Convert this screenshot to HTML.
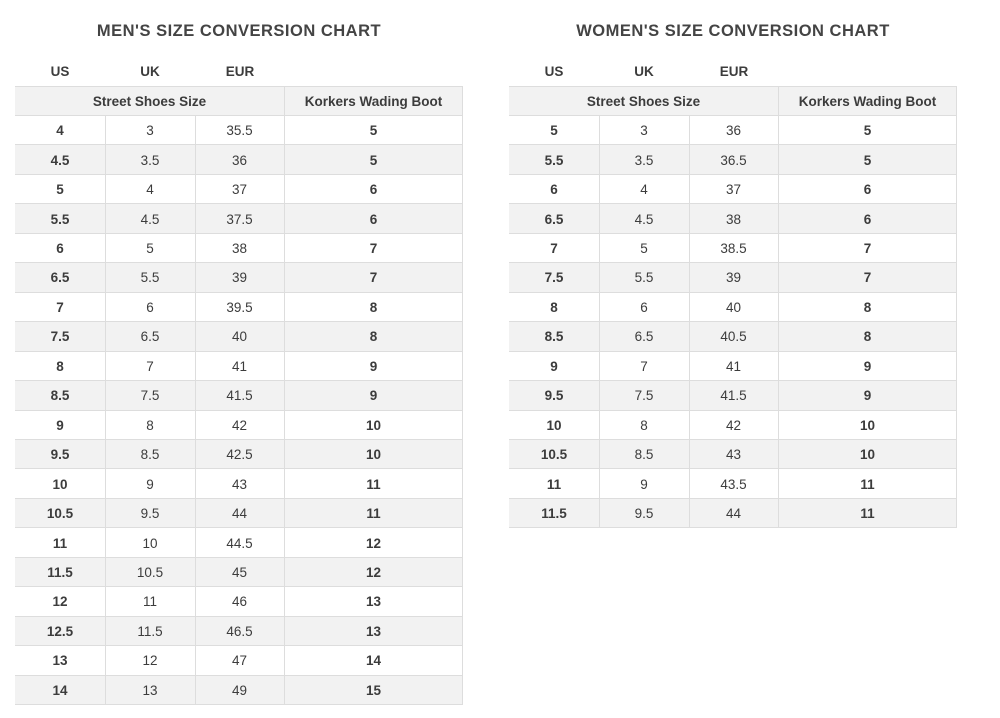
<!DOCTYPE html>
<html><head><meta charset="utf-8"><style>
body{margin:0;width:1000px;height:718px;background:#fff;position:relative;overflow:hidden;font-family:"Liberation Sans",sans-serif;color:#3c3c3c}
.a{position:absolute;text-align:center;box-sizing:border-box}
.t{font-weight:bold;font-size:16.5px;letter-spacing:0.5px;color:#444}
.h{font-weight:bold;font-size:13.5px}
.c{font-size:13.5px;display:flex;align-items:center;justify-content:center}
.b{font-weight:bold}
</style></head><body>
<div id="root"></div>
<script>
const men=[["4","3","35.5","5"],["4.5","3.5","36","5"],["5","4","37","6"],["5.5","4.5","37.5","6"],["6","5","38","7"],["6.5","5.5","39","7"],["7","6","39.5","8"],["7.5","6.5","40","8"],["8","7","41","9"],["8.5","7.5","41.5","9"],["9","8","42","10"],["9.5","8.5","42.5","10"],["10","9","43","11"],["10.5","9.5","44","11"],["11","10","44.5","12"],["11.5","10.5","45","12"],["12","11","46","13"],["12.5","11.5","46.5","13"],["13","12","47","14"],["14","13","49","15"]];
const women=[["5","3","36","5"],["5.5","3.5","36.5","5"],["6","4","37","6"],["6.5","4.5","38","6"],["7","5","38.5","7"],["7.5","5.5","39","7"],["8","6","40","8"],["8.5","6.5","40.5","8"],["9","7","41","9"],["9.5","7.5","41.5","9"],["10","8","42","10"],["10.5","8.5","43","10"],["11","9","43.5","11"],["11.5","9.5","44","11"]];
let h="";
function add(s){h+=s;}
function table(x0,title,data){
 const cx=[0,90,180,269,448].map(v=>v+x0);
 add(`<div class="a t" style="left:${x0-20}px;width:${448+40}px;top:22px">${title}</div>`);
 ["US","UK","EUR"].forEach((l,i)=>add(`<div class="a h" style="left:${cx[i]}px;width:90px;top:64px">${l}</div>`));
 const top=86,hh=30,rh=29.45;
 add(`<div class="a" style="left:${x0}px;top:${top}px;width:448px;height:${hh}px;background:#f2f2f2;border-top:1px solid #ddd;border-bottom:1px solid #ddd"></div>`);
 add(`<div class="a h c" style="left:${x0}px;top:${top}px;width:269px;height:${hh}px">Street Shoes Size</div>`);
 add(`<div class="a h c" style="left:${cx[3]}px;top:${top}px;width:179px;height:${hh}px">Korkers Wading Boot</div>`);
 const y0=top+hh;
 data.forEach((r,i)=>{
  const y=y0+i*rh;
  if(i%2==1)add(`<div class="a" style="left:${x0}px;top:${y}px;width:448px;height:${rh}px;background:#f2f2f2"></div>`);
  add(`<div class="a" style="left:${x0}px;top:${y+rh-1}px;width:448px;height:1px;background:#ddd"></div>`);
  r.forEach((v,j)=>{add(`<div class="a c ${j==0||j==3?'b':''}" style="left:${cx[j]}px;top:${y}px;width:${cx[j+1]-cx[j]}px;height:${rh}px">${v}</div>`)});
 });
 const yb=y0+data.length*rh;
 [1,2].forEach(j=>add(`<div class="a" style="left:${cx[j]}px;top:${y0}px;width:1px;height:${yb-y0}px;background:#ddd"></div>`));
 add(`<div class="a" style="left:${cx[3]}px;top:${top}px;width:1px;height:${yb-top}px;background:#ddd"></div>`);
 add(`<div class="a" style="left:${cx[4]-1}px;top:${top}px;width:1px;height:${yb-top}px;background:#ddd"></div>`);
}
table(15,"MEN'S SIZE CONVERSION CHART",men);
table(509,"WOMEN'S SIZE CONVERSION CHART",women);
document.getElementById("root").innerHTML=h;
</script>
</body></html>
